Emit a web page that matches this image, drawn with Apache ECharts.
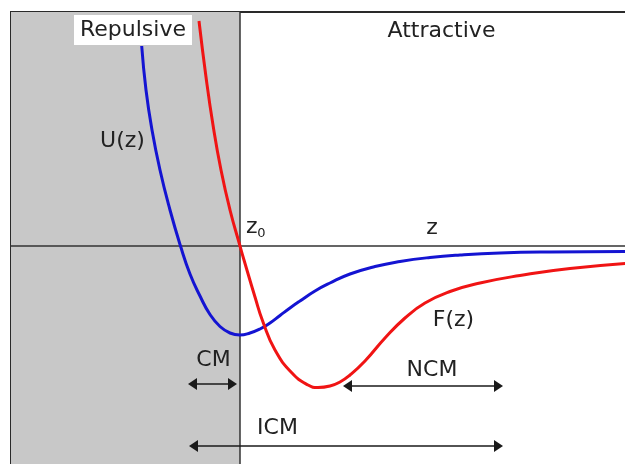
<!DOCTYPE html>
<html>
<head>
<meta charset="utf-8">
<script src="https://cdn.jsdelivr.net/npm/echarts@6/dist/echarts.min.js"></script>
<style>
html,body{margin:0;padding:0;background:#fff;}
#chart{width:625px;height:464px;}
</style>
</head>
<body>
<div id="chart"></div>
<script>
// U(z) potential curve (blue)
const uZ = [-0.983,-0.94,-0.88,-0.80,-0.70,-0.595,-0.50,-0.40,-0.30,-0.20,-0.10,0,0.10,0.20,0.30,0.40,0.50,0.60,0.75,0.90,1.10,1.35,1.60,1.90,2.20,2.60,3.10,4.00];
const uV = [2.00,1.56,1.16,0.76,0.36,0,-0.28,-0.50,-0.685,-0.805,-0.87,-0.89,-0.87,-0.83,-0.77,-0.695,-0.62,-0.55,-0.45,-0.37,-0.28,-0.205,-0.155,-0.115,-0.09,-0.07,-0.06,-0.055];
// F(z) force curve (red)
const fZ = [-0.41,-0.34,-0.27,-0.19,-0.10,0,0.04,0.15,0.23,0.35,0.52,0.68,0.78,0.90,1.00,1.10,1.25,1.45,1.65,1.85,2.10,2.40,2.80,3.30,4.00];
const fV = [2.25,1.69,1.21,0.76,0.36,0,-0.14,-0.51,-0.76,-1.04,-1.27,-1.39,-1.415,-1.40,-1.36,-1.29,-1.15,-0.92,-0.72,-0.57,-0.455,-0.37,-0.295,-0.225,-0.165];
// repulsive region (z < z0)
const repulsiveFrom = -2.29;
const repulsiveTo = 0;
// range arrows (tip to tip)
const arrowNames = ['CM','NCM','ICM'];
const arrowFrom = [-0.52, 1.03, -0.51];
const arrowTo = [-0.03, 2.63, 2.63];
const arrowLevel = [-1.38, -1.40, -2.00];

const chart = echarts.init(document.getElementById('chart'), null, {renderer:'canvas'});
const FONT = '"DejaVu Sans", Verdana, sans-serif';
const TXT = '#222';
const HEAD_HALF = 0.045; // half arrow-head length in axis units (symbols are centred on the end point)

function pairs(xs, ys){ return xs.map((x,i)=>[x, ys[i]]); }

const arrowData = arrowNames.map((n,i)=>[
  {name:n, coord:[arrowFrom[i] + HEAD_HALF, arrowLevel[i]]},
  {coord:[arrowTo[i] - HEAD_HALF, arrowLevel[i]]}
]);

function txt(text, x, y, size, extra){
  return {
    type:'text', x:x, y:y, z:100,
    style:Object.assign({text:text, fill:TXT, font: size+'px '+FONT, align:'center', verticalAlign:'middle'}, extra||{})
  };
}

chart.setOption({
  animation:false,
  backgroundColor:'#fff',
  grid:{left:11, top:12, width:640, height:480, outerBoundsMode:'none', containLabel:false,
    show:true, borderColor:'#2a2a2a', borderWidth:2, backgroundColor:'transparent', z:1},
  xAxis:{type:'value', min:-2.29, max:4.11, z:1,
    axisLine:{show:true, onZero:true, lineStyle:{color:'#333', width:1.5}},
    axisTick:{show:false}, axisLabel:{show:false}, splitLine:{show:false}},
  yAxis:{type:'value', min:-2.46, max:2.34, z:1,
    axisLine:{show:true, onZero:true, lineStyle:{color:'#333', width:1.5}},
    axisTick:{show:false}, axisLabel:{show:false}, splitLine:{show:false}},
  series:[
    {type:'line', z:0, data:[], silent:true,
      markArea:{silent:true, itemStyle:{color:'#c8c8c8'},
        data:[[{xAxis:repulsiveFrom},{xAxis:repulsiveTo}]]}},
    {type:'line', name:'U(z)', z:2, data:pairs(uZ,uV), smooth:0.5, showSymbol:false, silent:true,
      lineStyle:{color:'#1414d2', width:3}},
    {type:'line', name:'F(z)', z:2, data:pairs(fZ,fV), smooth:0.5, showSymbol:false, silent:true,
      lineStyle:{color:'#f01414', width:3}},
    {type:'line', z:3, data:[], silent:true,
      markLine:{silent:true, symbol:['triangle','triangle'], symbolSize:[12,9],
        lineStyle:{color:'#1a1a1a', width:1.6, type:'solid'}, label:{show:false},
        data:arrowData}}
  ],
  graphic:[
    txt('Repulsive', 133, 30, 22, {backgroundColor:'#fff', padding:[4,6,4,6]}),
    txt('Attractive', 441.5, 31, 22),
    txt('U(z)', 122.5, 141, 22),
    txt('z', 251.7, 227, 22),
    txt('0', 261.5, 234, 13),
    txt('z', 432, 228, 22),
    txt('F(z)', 453.5, 320, 22),
    txt('CM', 213.5, 360, 22),
    txt('NCM', 432, 370, 22),
    txt('ICM', 277.5, 428, 22)
  ]
});
</script>
</body>
</html>
